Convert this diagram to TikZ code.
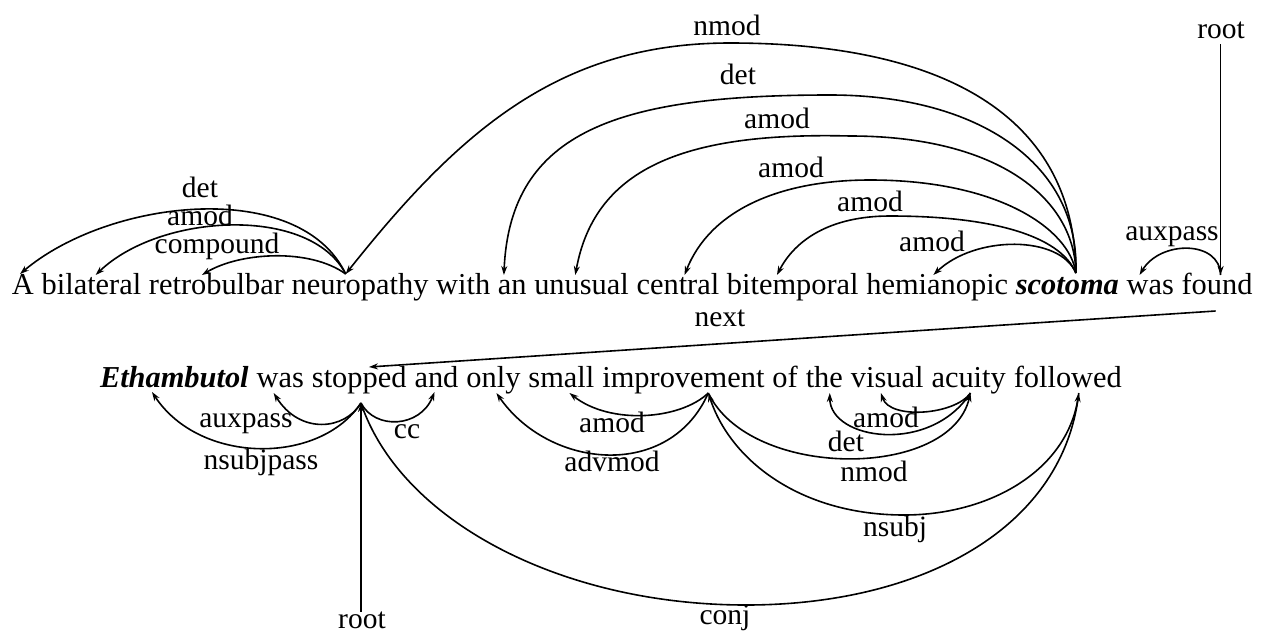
\documentclass[tikz,border=0pt]{standalone}
\usepackage{fontspec}
\setmainfont{Liberation Serif}
\usetikzlibrary{calc,arrows.meta}
\begin{document}
\begin{tikzpicture}[x=1pt,y=-1pt,
  word/.style={inner sep=0pt, outer sep=0pt, anchor=base west, font=\fontsize{30.4}{36}\selectfont},
  lab/.style={inner sep=0pt, outer sep=0pt, font=\fontsize{29.5}{36}\selectfont},
  dep/.style={line width=1.6pt, -{Stealth[length=9pt,width=6pt]}},
  bi/.style={font=\fontsize{30.4}{36}\selectfont\bfseries\itshape}
]
\useasboundingbox (0,0) rectangle (1266,635);
% ---------- sentence 1 ----------
\def\sp{7.7}
\node[word] (a1) at (12,294) {A};
\node[word] (a2) at ($(a1.base east)+(\sp,0)$) {bilateral};
\node[word] (a3) at ($(a2.base east)+(\sp,0)$) {retrobulbar};
\node[word] (a4) at ($(a3.base east)+(\sp,0)$) {neuropathy};
\node[word] (a5) at ($(a4.base east)+(\sp,0)$) {with};
\node[word] (a6) at ($(a5.base east)+(\sp,0)$) {an};
\node[word] (a7) at ($(a6.base east)+(\sp,0)$) {unusual};
\node[word] (a8) at ($(a7.base east)+(\sp,0)$) {central};
\node[word] (a9) at ($(a8.base east)+(\sp,0)$) {bitemporal};
\node[word] (a10) at ($(a9.base east)+(\sp,0)$) {hemianopic};
\node[word,bi] (a11) at ($(a10.base east)+(\sp,0)$) {scotoma};
\node[word] (a12) at ($(a11.base east)+(\sp,0)$) {was};
\node[word] (a13) at ($(a12.base east)+(\sp,0)$) {found};
% attachment points
\coordinate (pA)   at ($(a1.base west)+(8,-20)$);
\coordinate (pBil) at ($(a2.base west)+(54,-19)$);
\coordinate (pRet) at ($(a3.base west)+(53,-19)$);
\coordinate (pNeu) at ($(a4.base west)+(54,-20)$);
\coordinate (pAn)  at ($(a6.base west)+(6,-19)$);
\coordinate (pUnu) at ($(a7.base west)+(41,-19)$);
\coordinate (pCen) at ($(a8.base west)+(48,-19)$);
\coordinate (pBit) at ($(a9.base west)+(50,-19)$);
\coordinate (pHem) at ($(a10.base west)+(67,-19)$);
\coordinate (pSco) at ($(a11.base west)+(60,-21)$);
\coordinate (pWas) at ($(a12.base west)+(13,-19)$);
\coordinate (pFou) at ($(a13.base west)+(39,-19)$);
\coordinate (pFouB) at ($(a13.base west)+(34,17)$);
% labels
\node[lab] (l1) at (200,187) {det};
\node[lab] (l2) at (200,215) {amod};
\node[lab] (l3) at (217,246) {compound};
\node[lab] (l4) at (727,25) {nmod};
\node[lab] (l5) at (738,74) {det};
\node[lab] (l6) at (777,118) {amod};
\node[lab] (l7) at (791,167) {amod};
\node[lab] (l8) at (870,201) {amod};
\node[lab] (l9) at (932,241) {amod};
\node[lab] (l10) at (1172,237) {auxpass};
\node[lab] (root1) at (1221,30) {root};
\node[lab] (next) at (720,318) {next};
% arcs
\draw[dep] (pNeu) .. controls (300,178) and (110,198) .. (pA);
\draw[dep] (pNeu) .. controls (310,205) and (160,213) .. (pBil);
\draw[dep] (pNeu) .. controls (310,248) and (240,252) .. (pRet);
\draw[dep] (pSco) .. controls (1075,120) and (950,43) .. (730,43) .. controls (560,43) and (460,130) .. (pNeu);
\draw[dep] (pSco) .. controls (1080,165) and (980,95) .. (830,95) .. controls (620,95) and (510,130) .. (pAn);
\draw[dep] (pSco) .. controls (1075,200) and (1000,136) .. (850,136) .. controls (690,132) and (595,165) .. (pUnu);
\draw[dep] (pSco) .. controls (1070,230) and (1000,180) .. (870,180) .. controls (780,180) and (710,210) .. (pCen);
\draw[dep] (pSco) .. controls (1060,235) and (990,216) .. (890,216) .. controls (830,216) and (795,240) .. (pBit);
\draw[dep] (pSco) .. controls (1060,235) and (975,235) .. (pHem);
\draw[dep] (pFou) .. controls (1220,240) and (1160,240) .. (pWas);
\coordinate (r1top) at ($(root1.south -| pFou)+(0,6)$);
\draw[dep] (r1top) -- (pFou);
% ---------- sentence 2 ----------
\def\sq{8}
\node[word,bi] (b1) at (100,387) {Ethambutol};
\node[word] (b2) at ($(b1.base east)+(\sq,0)$) {was};
\node[word] (b3) at ($(b2.base east)+(\sq,0)$) {stopped};
\node[word] (b4) at ($(b3.base east)+(\sq,0)$) {and};
\node[word] (b5) at ($(b4.base east)+(\sq,0)$) {only};
\node[word] (b6) at ($(b5.base east)+(\sq,0)$) {small};
\node[word] (b7) at ($(b6.base east)+(\sq,0)$) {improvement};
\node[word] (b8) at ($(b7.base east)+(\sq,0)$) {of};
\node[word] (b9) at ($(b8.base east)+(\sq,0)$) {the};
\node[word] (b10) at ($(b9.base east)+(\sq,0)$) {visual};
\node[word] (b11) at ($(b10.base east)+(\sq,0)$) {acuity};
\node[word] (b12) at ($(b11.base east)+(\sq,0)$) {followed};
\coordinate (qEth) at ($(b1.base west)+(52,5)$);
\coordinate (qWas) at ($(b2.base west)+(17,6)$);
\coordinate (qSto) at ($(b3.base west)+(49,16)$);
\coordinate (qStoT) at ($(b3.base west)+(57,-20)$);
\coordinate (qAnd) at ($(b4.base west)+(20,5)$);
\coordinate (qOnl) at ($(b5.base west)+(30,6)$);
\coordinate (qSma) at ($(b6.base west)+(41,6)$);
\coordinate (qImp) at ($(b7.base west)+(106,6)$);
\coordinate (qThe) at ($(b9.base west)+(24,6)$);
\coordinate (qVis) at ($(b10.base west)+(30,6)$);
\coordinate (qAcu) at ($(b11.base west)+(39,6)$);
\coordinate (qFol) at ($(b12.base west)+(65,6)$);
% next
\draw[dep] (pFouB) -- (qStoT);
% labels
\node[lab] (m1) at (246,424) {auxpass};
\node[lab] (m2) at (261,462) {nsubjpass};
\node[lab] (m3) at (407,432) {cc};
\node[lab] (m4) at (612,422) {amod};
\node[lab] (m5) at (612,461) {advmod};
\node[lab] (m6) at (886,417) {amod};
\node[lab] (m7) at (846,441) {det};
\node[lab] (m8) at (874,471) {nmod};
\node[lab] (m9) at (895,529) {nsubj};
\node[lab] (m10) at (725,618) {conj};
\node[lab] (root2) at (362,620) {root};
% arcs
\draw[dep] (qSto) .. controls (345,430) and (300,435) .. (qWas);
\draw[dep] (qSto) .. controls (320,465) and (200,465) .. (qEth);
\draw[dep] (qSto) .. controls (375,430) and (420,428) .. (qAnd);
\draw[dep] (root2.north -| qSto) -- (qSto);
\draw[dep] (qSto) .. controls (400,520) and (560,605) .. (746,605) .. controls (920,605) and (1060,530) .. (qFol);
\draw[dep] (qImp) .. controls (680,420) and (610,425) .. (qSma);
\draw[dep] (qImp) .. controls (670,480) and (550,470) .. (qOnl);
\draw[dep] (qImp) .. controls (750,480) and (950,480) .. (qAcu);
\draw[dep] (qFol) .. controls (1070,470) and (990,515) .. (904,515) .. controls (800,515) and (730,460) .. (qImp);
\draw[dep] (qAcu) .. controls (930,455) and (830,440) .. (qThe);
\draw[dep] (qAcu) .. controls (955,415) and (890,420) .. (qVis);
\end{tikzpicture}
\end{document}
